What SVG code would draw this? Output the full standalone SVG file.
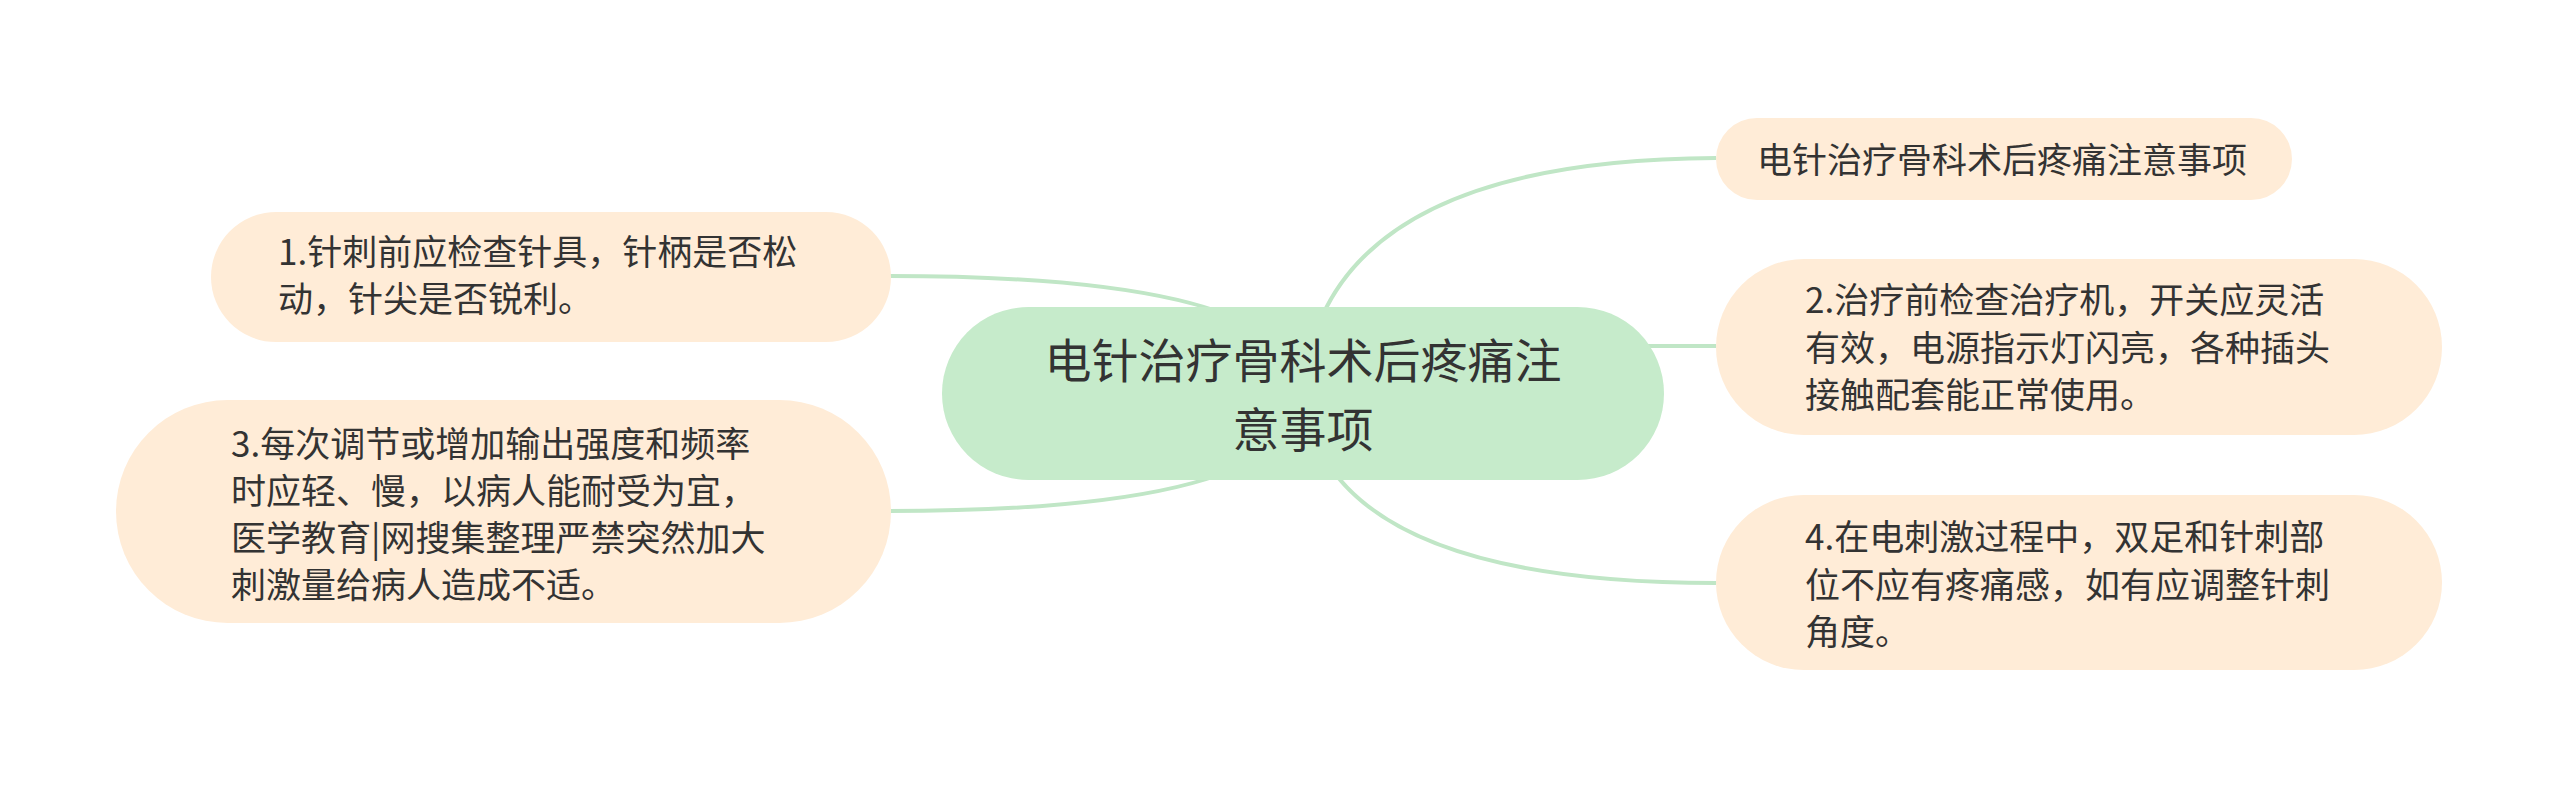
<svg xmlns="http://www.w3.org/2000/svg" width="2560" height="789" viewBox="0 0 2560 789">
<style>
.t{font-family:"Noto Sans CJK SC","Noto Sans",sans-serif;fill:#333333;}
.s{font-size:35px;}
.c{font-size:47px;}
.node{fill:#ffecd7;}
.root{fill:#c6ebcb;}
.edge{fill:none;stroke:#c0e6c6;stroke-width:4;}
</style>
<rect width="2560" height="789" fill="#ffffff"/>
<g id="connectors">
<path class="edge" d="M1303 393 Q1322 160 1716 158"/>
<path class="edge" d="M1600 346 L1716 346"/>
<path class="edge" d="M1303 393 Q1325 583 1716 583"/>
<path class="edge" d="M1303 393 Q1300 276 889 276"/>
<path class="edge" d="M1303 393 Q1300 511 889 511"/>
</g>
<g id="root">
<rect class="root" x="942" y="307" width="722" height="173" rx="86.5"/>
<text class="t c" x="1303" y="378" text-anchor="middle">电针治疗骨科术后疼痛注</text>
<text class="t c" x="1303" y="447" text-anchor="middle">意事项</text>
</g>
<g id="node-title">
<rect class="node" x="1716" y="118" width="576" height="82" rx="41"/>
<text class="t s" x="1757" y="173">电针治疗骨科术后疼痛注意事项</text>
</g>
<g id="node-2">
<rect class="node" x="1716" y="259" width="726" height="176" rx="88"/>
<text class="t s" x="1805" y="313">2.治疗前检查治疗机，开关应灵活</text>
<text class="t s" x="1805" y="361">有效，电源指示灯闪亮，各种插头</text>
<text class="t s" x="1805" y="408">接触配套能正常使用。</text>
</g>
<g id="node-4">
<rect class="node" x="1716" y="495" width="726" height="175" rx="87.5"/>
<text class="t s" x="1805" y="550">4.在电刺激过程中，双足和针刺部</text>
<text class="t s" x="1805" y="598">位不应有疼痛感，如有应调整针刺</text>
<text class="t s" x="1805" y="645">角度。</text>
</g>
<g id="node-1">
<rect class="node" x="211" y="212" width="680" height="130" rx="65"/>
<text class="t s" x="278" y="265">1.针刺前应检查针具，针柄是否松</text>
<text class="t s" x="278" y="312">动，针尖是否锐利。</text>
</g>
<g id="node-3">
<rect class="node" x="116" y="400" width="775" height="223" rx="111.5"/>
<text class="t s" x="231" y="457">3.每次调节或增加输出强度和频率</text>
<text class="t s" x="231" y="504">时应轻、慢，以病人能耐受为宜，</text>
<text class="t s" x="231" y="551">医学教育|网搜集整理严禁突然加大</text>
<text class="t s" x="231" y="598">刺激量给病人造成不适。</text>
</g>
</svg>
